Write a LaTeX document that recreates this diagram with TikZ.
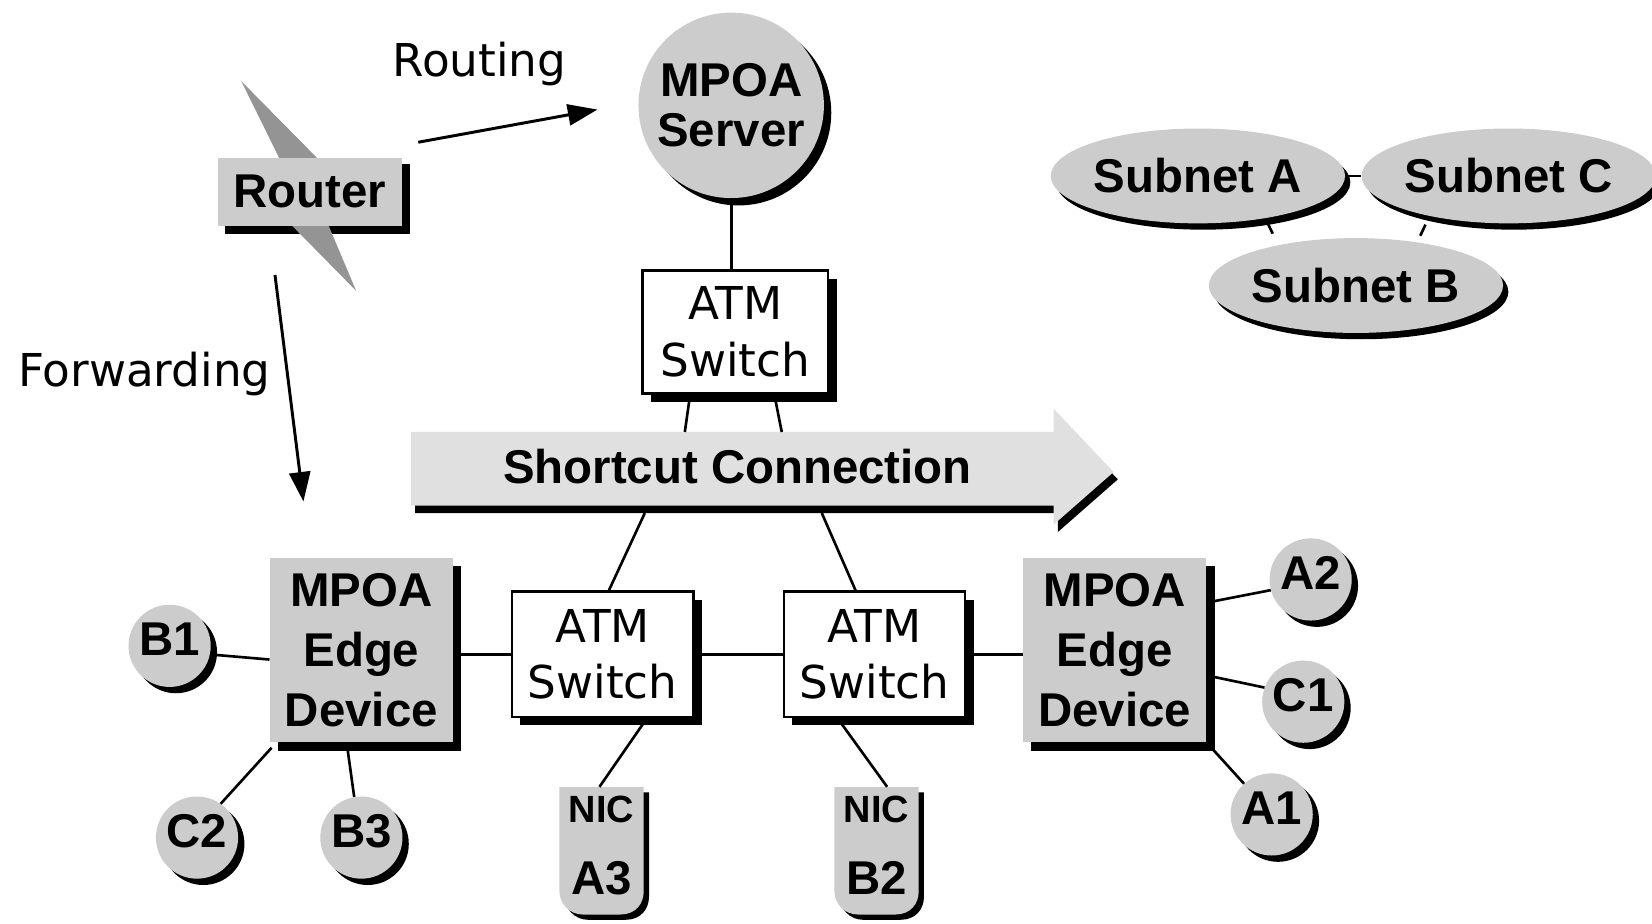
\documentclass[tikz,border=0pt]{standalone}
\usepackage{fontspec}
\setmainfont{DejaVu Sans}
\newfontfamily\lsans{Liberation Sans}
\usetikzlibrary{arrows.meta,shadows,shapes.geometric}
\definecolor{stip}{gray}{0.80}
\definecolor{stipl}{gray}{0.88}
\definecolor{boltc}{gray}{0.58}
\newcommand\nicpath{(0,0) -- (80,0) -- (80,99) .. controls (80,111) and (72,121) .. (58,121) -- (22,121) .. controls (10,121) and (0,111) .. (0,99) -- cycle}
\begin{document}
\begin{tikzpicture}[x=1pt,y=-1pt,
  bfont/.style={font=\lsans\bfseries\fontsize{45}{#1}\selectfont},
  bfont/.default=48,
  rfont/.style={font=\fontsize{43}{54}\selectfont},
  shad/.style={drop shadow={shadow xshift=#1,shadow yshift=-#1,fill=black,opacity=1}},
  shad/.default=7pt,
  gbox/.style={rectangle,fill=stip,inner sep=0,align=center,shad=8pt},
  atm/.style={rectangle,draw=black,line width=2.5pt,fill=white,inner sep=0,align=center,
    minimum width=172,minimum height=119,rfont,shad=8pt},
  endpt/.style={circle,fill=stip,minimum size=78,inner sep=0,bfont,text height=32pt,text depth=13pt,shad=6pt},
  subnet/.style={ellipse,fill=stip,inner sep=0,bfont,
    drop shadow={shadow xshift=5pt,shadow yshift=-6pt,fill=black,opacity=1}},
  tagbox/.style={rectangle,minimum width=80,minimum height=121,inner sep=0},
  wire/.style={line width=2.5pt},
  farrow/.style={line width=2.8pt,-{Triangle[length=28pt,width=20pt]}}
]
\fill[white] (0,0) rectangle (1568,877);
\useasboundingbox (0,0) rectangle (1568,877);

% Router with lightning bolt
\fill[black] (214,156) rectangle (389,222);
\fill[boltc] (229,77) -- (303,152) -- (266,152) -- cycle;
\fill[boltc] (275,212) -- (311,212) -- (338,276) -- cycle;
\node[rectangle,fill=stip,inner sep=0,minimum width=175,minimum height=65,bfont] (router) at (294,182) {Router};

% Routing / Forwarding
\node[rfont,anchor=base] (routing) at (455,73) {Routing};
\coordinate (rt0) at (397,135);
\coordinate (rt1) at (567,104);
\draw[farrow] (rt0) -- (rt1);
\node[rfont,anchor=base] (fwd) at (137,367) {Forwarding};
\coordinate (fw0) at (261,261);
\coordinate (fw1) at (288,476);
\draw[farrow] (fw0) -- (fw1);

% MPOA server and top switch
\node[circle,fill=stip,minimum size=176,inner sep=0,align=center,bfont=48,shad=7pt] (server) at (694,100) {MPOA\\Server};
\node[atm,minimum width=176,minimum height=117] (tsw) at (698,315) {ATM\\Switch};
\draw[wire] (server.south) -- (server.south |- tsw.north);

% Shortcut connection arrow
\fill[black] (394,417) -- (1004,417) -- (1004,395) -- (1061,455) -- (1004,505) -- (1004,487) -- (394,487) -- cycle;
\fill[stipl] (390,410) -- (1000,410) -- (1000,388) -- (1057,448) -- (1000,498) -- (1000,480) -- (390,480) -- cycle;
\node[bfont] (scut) at (700,443) {Shortcut Connection};
\coordinate (scTL) at (650,410);
\coordinate (scTR) at (742,410);
\coordinate (scBL) at (612,487);
\coordinate (scBR) at (780,487);
\draw[wire] ([xshift=-43]tsw.south) -- (scTL);
\draw[wire] ([xshift=37]tsw.south) -- (scTR);

% Lower switches
\node[atm] (sw1) at (572,621) {ATM\\Switch};
\node[atm] (sw2) at (830,621) {ATM\\Switch};
\draw[wire] (scBL) -- ([xshift=6]sw1.north);
\draw[wire] (scBR) -- ([xshift=-18]sw2.north);

% Edge devices
\node[gbox,minimum width=174,minimum height=175,bfont=57] (edgeL) at (343,617) {MPOA\\Edge\\Device};
\node[gbox,minimum width=174,minimum height=175,bfont=57] (edgeR) at (1058,617) {MPOA\\Edge\\Device};

% End stations
\node[endpt] (b1) at (161,613) {B1};
\node[endpt] (c2) at (187,795) {C2};
\node[endpt] (b3) at (343,795) {B3};
\node[endpt] (a2) at (1244,550) {A2};
\node[endpt] (c1) at (1237,666) {C1};
\node[endpt] (a1) at (1207,773) {A1};

% NIC tags
\begin{scope}[shift={(536,752)}]\fill[black] \nicpath;\end{scope}
\begin{scope}[shift={(531,747)}]\fill[stip] \nicpath;\end{scope}
\begin{scope}[shift={(797,752)}]\fill[black] \nicpath;\end{scope}
\begin{scope}[shift={(792,747)}]\fill[stip] \nicpath;\end{scope}
\node[tagbox] (nicA) at (571,807.5) {};
\node[tagbox] (nicB) at (832,807.5) {};
\node[font=\lsans\bfseries\fontsize{36}{36}\selectfont,anchor=base] (nicAt) at (571,781) {NIC};
\node[bfont,anchor=base] (nicAn) at (571,849) {A3};
\node[font=\lsans\bfseries\fontsize{36}{36}\selectfont,anchor=base] (nicBt) at (832,781) {NIC};
\node[bfont,anchor=base] (nicBn) at (832,849) {B2};

% Subnets
\node[subnet,minimum width=248,minimum height=90] (subA) at (1137,167) {Subnet A};
\node[subnet,minimum width=262,minimum height=90] (subC) at (1432,167) {Subnet C};
\node[subnet,minimum width=262,minimum height=90] (subB) at (1287,271) {Subnet B};

% Wires
\draw[wire] (subA.east) -- (subC.west);
\draw[wire] ([shift={(65,-3)}]subA.south) -- ([shift={(-79,-4)}]subB.north);
\draw[wire] ([shift={(-79,1)}]subC.south) -- ([shift={(61,-2)}]subB.north);
\draw[wire] (b1.-12) -- ([yshift=-9]edgeL.west);
\draw[wire] (c2.55) -- ([shift={(2,5)}]edgeL.south west);
\draw[wire] ([xshift=-14]edgeL.south) -- (b3.100);
\draw[wire] (edgeL.east |- sw1.west) -- (sw1.west);
\draw[wire] (sw1.east) -- (sw2.west);
\draw[wire] (sw2.east) -- (sw2.east -| edgeR.west);
\draw[wire] ([yshift=45]edgeR.east) -- (a2.195);
\draw[wire] ([yshift=-24]edgeR.east) -- (c1.160);
\draw[wire] (edgeR.south east) -- (a1.132);
\draw[wire] ([xshift=42]sw1.south) -- ([xshift=-2]nicA.north);
\draw[wire] ([xshift=-35]sw2.south) -- ([xshift=10]nicB.north);
\end{tikzpicture}
\end{document}
